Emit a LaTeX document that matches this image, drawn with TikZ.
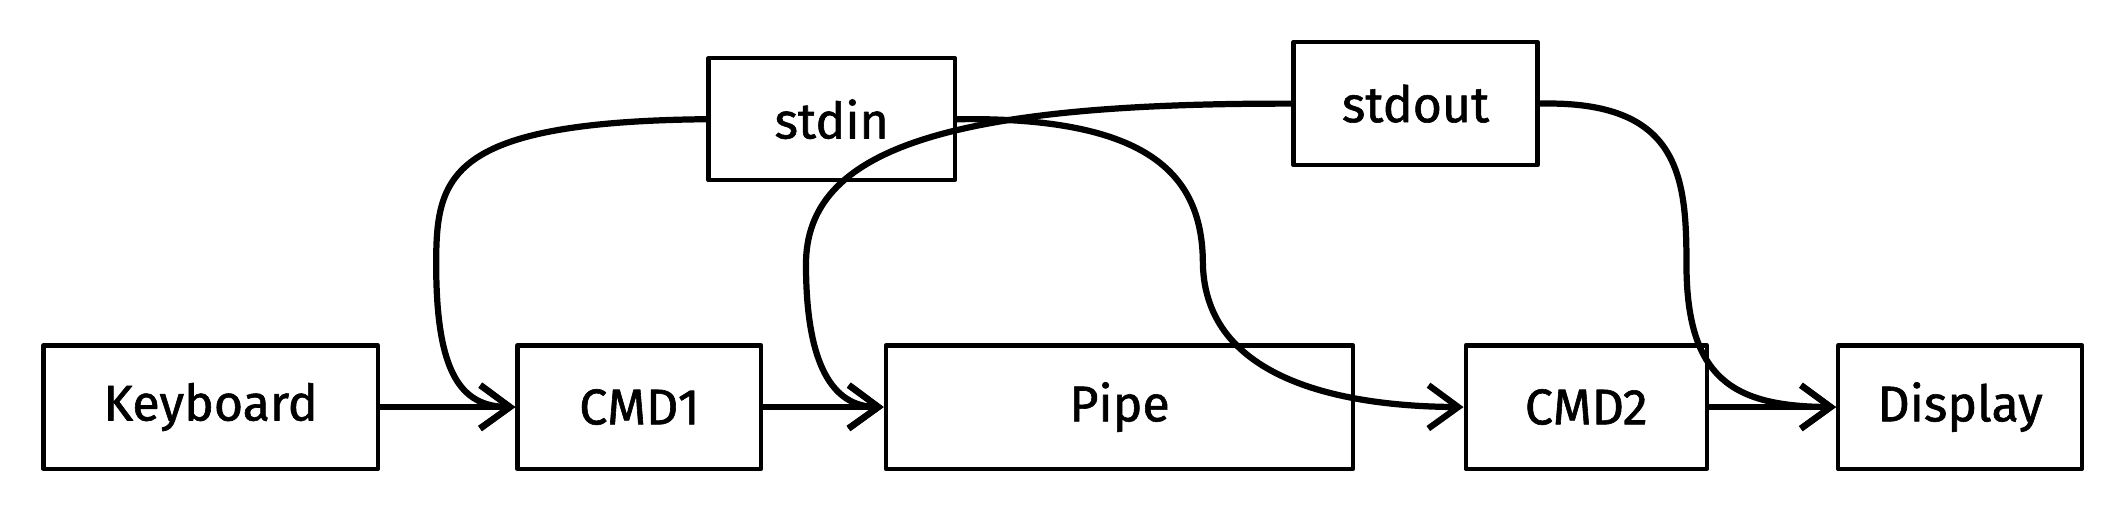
\documentclass[tikz,border=0pt]{standalone}
\usepackage{fontspec}
\setmainfont{Fira Sans}
\newfontfamily\hwfont{Fira Sans}[FakeBold=1.2]
\usetikzlibrary{arrows.meta}
\begin{document}
\begin{tikzpicture}[x=1pt,y=-1pt,
  box/.style={draw, line width=3.2pt, inner sep=0pt, minimum height=91pt, font=\hwfont\fontsize{37}{44}\selectfont},
  conn/.style={line width=4.6pt, line cap=round, -{Straight Barb[length=22pt,width=32pt,line width=4.6pt]}},
  line cap=round, line join=round]
\useasboundingbox (0,0) rectangle (1568,378);
\node[box, minimum width=247pt] (kb) at (155.5,300.5) {Keyboard};
\node[box, minimum width=180pt] (c1) at (472,300.5) {CMD1};
\node[box, minimum width=345pt] (pipe) at (826.5,300.5) {Pipe};
\node[box, minimum width=178pt] (c2) at (1171,300.5) {CMD2};
\node[box, minimum width=180pt] (disp) at (1447,300.5) {Display};
\node[box, minimum width=182pt, minimum height=90pt] (in) at (614,88) {stdin};
\node[box, minimum width=180pt] (out) at (1045,76.5) {stdout};
\draw[conn] (kb.east) -- (c1.west);
\draw[conn] (c1.east) -- (pipe.west);
\draw[conn] (c2.east) -- (disp.west);
\draw[conn] (in.west) .. controls (330,90) and (322,130) .. (322,195) .. controls (322,275) and (340,300) .. (c1.west);
\draw[conn] (out.west) .. controls (700,76) and (595,110) .. (595,195) .. controls (595,270) and (615,300) .. (pipe.west);
\draw[conn] (in.east) .. controls (850,86) and (888,130) .. (888,195) .. controls (890,280) and (990,300) .. (c2.west);
\draw[conn] (out.east) .. controls (1240,74) and (1245,130) .. (1245,195) .. controls (1245,280) and (1280,300) .. (disp.west);
\end{tikzpicture}
\end{document}
